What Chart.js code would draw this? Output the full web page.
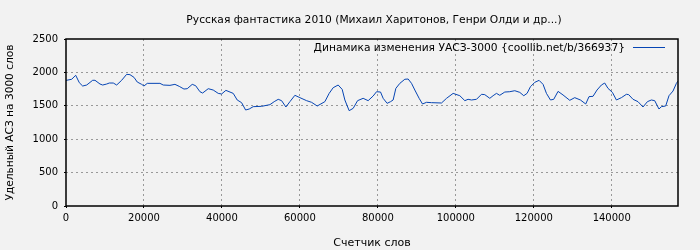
<!DOCTYPE html>
<html>
<head>
<meta charset="utf-8">
<script src="https://cdn.jsdelivr.net/npm/chart.js@4/dist/chart.umd.min.js"></script>
<style>
  html, body { margin: 0; padding: 0; background: #f2f2f2; }
  #wrap { width: 700px; height: 250px; }
</style>
</head>
<body>
<div id="wrap"><canvas id="chart" width="700" height="250"></canvas></div>
<script>
const TITLE = 'Русская фантастика 2010 (Михаил Харитонов, Генри Олди и др...)'
const SERIES_LABEL = 'Динамика изменения УАСЗ-3000 {coollib.net/b/366937}'
const X_TITLE = 'Счетчик слов'
const Y_TITLE = 'Удельный АСЗ на 3000 слов'

// word counter (x) and value (y)
const wordCount = [
    0, 1460, 2490, 3410, 4280, 5310, 6850, 7440, 8720, 9410,
    10440, 11100, 12130, 13000, 14280, 15560, 16410, 17440, 18280, 19410,
    20000, 20850, 24100, 24950, 26670, 27950, 29050, 30260, 31100, 32380,
    33260, 34360, 35050, 36490, 37770, 39050, 39920, 41020, 42900, 43920,
    45050, 46080, 47000, 48020, 50180, 52310, 53410, 54440, 55310, 56410,
    57440, 58720, 60000, 61720, 63000, 64440, 66410, 67510, 68540, 69820,
    70850, 71540, 72640, 73670, 74800, 76230, 77510, 78800, 79670, 80690,
    81360, 82380, 83260, 83920, 84620, 85640, 86920, 87770, 88640, 89490,
    90590, 91460, 92490, 93770, 96330, 97620, 99310, 101030, 102310, 103150,
    104020, 105300, 106590, 107430, 108720, 109560, 110430, 111280, 112560, 113840,
    115130, 116410, 117430, 118280, 119150, 120250, 121360, 122380, 123250, 124280,
    125120, 126230, 127510, 129230, 130510, 131970, 133330, 134170, 135200, 136220,
    137350, 138200, 139040, 140170, 141200, 142480, 143760, 144350, 145460, 146740,
    148020, 149150, 150170, 151020, 152120, 152740, 153840, 154690, 155720, 156590,
    157000
]
const uasz = [
    1880, 1897, 1957, 1846, 1796, 1811, 1882, 1882, 1826, 1811,
    1826, 1841, 1841, 1811, 1882, 1971, 1966, 1926, 1856, 1821,
    1796, 1836, 1836, 1811, 1806, 1821, 1791, 1751, 1756, 1821,
    1801, 1711, 1691, 1756, 1736, 1686, 1677, 1731, 1686, 1587,
    1547, 1437, 1452, 1487, 1492, 1517, 1562, 1597, 1577, 1482,
    1562, 1657, 1622, 1577, 1552, 1497, 1562, 1686, 1771, 1811,
    1746, 1587, 1427, 1462, 1577, 1612, 1577, 1647, 1711, 1706,
    1612, 1537, 1562, 1587, 1761, 1836, 1897, 1901, 1836, 1736,
    1612, 1527, 1552, 1547, 1542, 1612, 1686, 1651, 1577, 1597,
    1587, 1597, 1672, 1667, 1612, 1651, 1686, 1657, 1706, 1711,
    1726, 1701, 1651, 1686, 1786, 1851, 1881, 1821, 1686, 1587,
    1597, 1716, 1662, 1582, 1622, 1587, 1527, 1637, 1642, 1736,
    1811, 1841, 1761, 1701, 1587, 1622, 1672, 1667, 1597, 1562,
    1482, 1562, 1587, 1577, 1452, 1487, 1497, 1651, 1721, 1836,
    1870
]

const FONT = 'DejaVu Sans'
const LINE_COLOR = '#0645b4'
const BG = '#f2f2f2'

const points = wordCount.map((x, i) => ({x: x, y: uasz[i]}))

// title, legend, background and frame drawn on canvas
const decor = {
    id: 'decor',
    beforeDraw: (chart) => {
        const ctx = chart.ctx
        ctx.save()
        ctx.fillStyle = BG
        ctx.fillRect(0, 0, chart.width, chart.height)
        ctx.restore()
    },
    afterDraw: (chart) => {
        const ctx = chart.ctx
        const a = chart.chartArea
        ctx.save()
        // frame
        ctx.strokeStyle = '#000'
        ctx.lineWidth = 1.5
        ctx.strokeRect(a.left, a.top, a.right - a.left, a.bottom - a.top)
        // title
        ctx.fillStyle = '#000'
        ctx.font = '10.7px "' + FONT + '"'
        ctx.textAlign = 'center'
        ctx.textBaseline = 'middle'
        ctx.fillText(TITLE, 374, 20)
        // legend inside plot
        ctx.textAlign = 'right'
        ctx.fillText(chart.data.datasets[0].label, 625, 48)
        ctx.strokeStyle = LINE_COLOR
        ctx.lineWidth = 1
        ctx.beginPath()
        ctx.moveTo(633, 47.5)
        ctx.lineTo(665, 47.5)
        ctx.stroke()
        ctx.restore()
    }
}

Chart.defaults.font.family = FONT
Chart.defaults.font.size = 10
Chart.defaults.color = '#000'

const config = {
    type: 'line',
    data: {
        datasets: [{
            label: SERIES_LABEL,
            data: points,
            borderColor: LINE_COLOR,
            backgroundColor: LINE_COLOR,
            borderWidth: 1,
            pointRadius: 0,
            tension: 0,
        }]
    },
    plugins: [decor],
    options: {
        responsive: false,
        animation: false,
        layout: {
            padding: {left: 0, right: 22, top: 39, bottom: 0}
        },
        plugins: {
            legend: {display: false},
            title: {display: false},
            tooltip: {enabled: false},
        },
        scales: {
            x: {
                type: 'linear',
                min: 0,
                max: 157000,
                afterFit: (scale) => { scale.height = 44 },
                afterBuildTicks: (scale) => {
                    scale.ticks = [0, 20000, 40000, 60000, 80000, 100000, 120000, 140000].map(v => ({value: v}))
                },
                ticks: {
                    maxRotation: 0,
                    padding: 4,
                    callback: (value) => String(value),
                },
                grid: {
                    color: (c) => c.tick && c.tick.value === 0 ? 'rgba(0,0,0,0)' : '#999',
                    lineWidth: 1,
                    tickLength: 2,
                    tickColor: '#000',
                },
                border: {display: false, dash: [2, 3]},
                title: {
                    display: true,
                    text: X_TITLE,
                    font: {size: 11},
                    padding: {top: 4, bottom: 0},
                },
            },
            y: {
                min: 0,
                max: 2500,
                afterFit: (scale) => { scale.width = 66 },
                ticks: {
                    stepSize: 500,
                    padding: 6,
                    callback: (value) => String(value),
                },
                grid: {
                    color: (c) => c.tick && (c.tick.value === 0 || c.tick.value === 2500) ? 'rgba(0,0,0,0)' : '#999',
                    lineWidth: 1,
                    tickLength: 2,
                    tickColor: '#000',
                },
                border: {display: false, dash: [2, 3]},
                title: {
                    display: true,
                    text: Y_TITLE,
                    font: {size: 10.6},
                    padding: {top: 4, bottom: 2},
                },
            }
        }
    }
}

new Chart(document.getElementById('chart'), config)
</script>
</body>
</html>
